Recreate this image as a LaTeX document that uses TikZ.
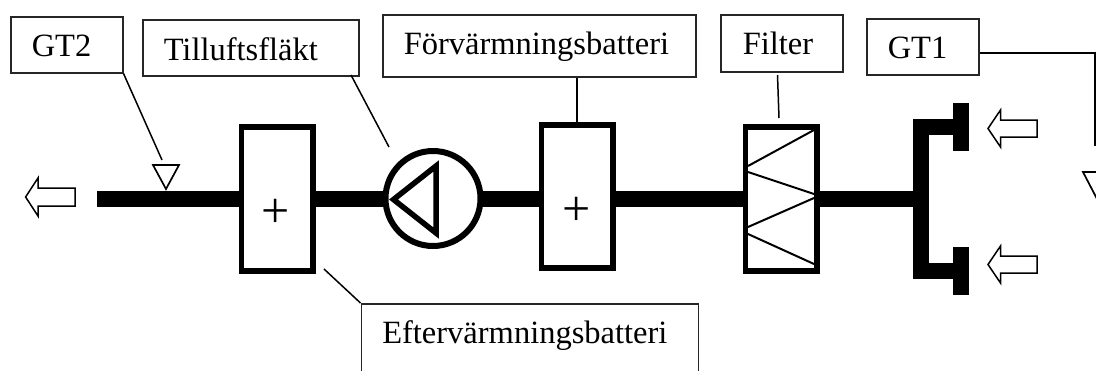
\documentclass[tikz,border=0pt]{standalone}
\usepackage{fontspec}
\setmainfont{Liberation Serif}
\tikzset{
  x=1pt,y=-1pt,
  lbox/.style={draw=black!85,line width=1.5pt,rectangle,inner sep=0pt,anchor=north west,font=\fontsize{32.5}{36}\selectfont},
  leader/.style={draw=black,line width=1.5pt},
  pipe/.style={draw=black,line width=16pt},
  unit/.style={draw=black,line width=5.5pt,rectangle,inner sep=0pt,outer sep=0pt,fill=white,minimum width=71.5pt},
  plussign/.style={inner sep=0pt,font=\fontsize{50}{50}\selectfont},
  flow/.style={draw=black,line width=1.5pt,fill=white,line join=miter},
  sensor/.style={draw=black,line width=1.7pt,fill=white},
  media/.style={draw=black,line width=2pt},
}
\newcommand{\boxtext}[3]{\makebox[#1pt][l]{\hspace{#2pt}#3}}
\begin{document}
\begin{tikzpicture}
\useasboundingbox (0,0) rectangle (1096,370);
\clip (0,0) rectangle (1096,370);
% unit symbols
\node[unit,minimum height=144pt] (h1) at (277,199) {};
\node[unit,minimum height=143pt] (h2) at (577,196.5) {};
\node[unit,minimum height=144pt] (flt) at (781,199) {};
\node[draw=black,line width=6pt,circle,inner sep=0pt,outer sep=0pt,minimum size=95pt,fill=white] (fan) at (433,198.5) {};
\node[plussign] (p1) at (276,213) {+};
\node[plussign] (p2) at (577,211) {+};
% main pipe
\coordinate (out) at (97,199);
\coordinate (junc) at (921,199);
\draw[pipe] (out) -- (h1.west |- out);
\draw[pipe] (h1.east |- out) -- (fan.west |- out);
\draw[pipe] (fan.east |- out) -- (h2.west |- out);
\draw[pipe] (h2.east |- out) -- (flt.west |- out);
\draw[pipe] (flt.east |- out) -- (junc);
% fan impeller
\draw[line width=5.5pt,line join=miter] (393.5,199.5) -- (436,166) -- (436,233) -- cycle;
% filter zigzag
\draw[media] (814,130) -- (748,166);
\draw[media] (748,172) -- (814,194);
\draw[media] (814,198) -- (748,227);
\draw[media] (748,234) -- (814,264);
% intake branches
\coordinate (tt) at (961,127);
\coordinate (tb) at (961,271);
\fill (913,119) rectangle (929,279);
\draw[pipe] (913,127) -- (tt);
\draw[pipe] (913,271) -- (tb);
\fill (953,103) rectangle (969,151);
\fill (953,247) rectangle (969,295);
% flow arrows
\draw[flow] (25.6,197) -- (38,178) -- (38,188) -- (75,188) -- (75,206) -- (38,206) -- (38,216) -- cycle;
\draw[flow] (988,128.5) -- (1000.5,110) -- (1000.5,120) -- (1037,120) -- (1037,137) -- (1000.5,137) -- (1000.5,147) -- cycle;
\draw[flow] (988,264.5) -- (1000.5,246) -- (1000.5,256) -- (1037,256) -- (1037,273) -- (1000.5,273) -- (1000.5,283) -- cycle;
% labels
\node[lbox,text height=40pt,text depth=16pt] (gt2) at (10,16) {\boxtext{112}{21}{GT2}};
\node[lbox,text height=41pt,text depth=15pt] (till) at (142,19) {\boxtext{216}{21}{Tilluftsfläkt}};
\node[lbox,text height=40pt,text depth=22pt] (forv) at (382,14) {\boxtext{313}{21}{Förvärmningsbatteri}};
\node[lbox,text height=40pt,text depth=17pt] (filt) at (720,14) {\boxtext{122}{22}{Filter}};
\node[lbox,text height=40pt,text depth=16pt] (gt1) at (866,18) {\boxtext{112}{21}{GT1}};
\node[lbox,text height=40pt,text depth=40pt] (eft) at (360.5,303) {\boxtext{337}{21}{Eftervärmningsbatteri}};
% sensors
\draw[sensor] (153,165) -- (179,165) -- (166,189) -- cycle;
\draw[sensor] (1083,172) -- (1109,172) -- (1096,197) -- cycle;
% leaders
\coordinate (g2end) at (162,160);
\coordinate (tillend) at (389,147);
\coordinate (tillstart) at (351,75);
\coordinate (g1start) at (980,53);
\coordinate (g1corner) at (1095,53);
\coordinate (g1end) at (1095,146);
\coordinate (eftstart) at (324,269);
\coordinate (filtstart) at (777.5,75);
\coordinate (filtend) at (779,118);
\draw[leader] (gt2.south east) -- (g2end);
\draw[leader] (tillstart) -- (tillend);
\draw[leader] (forv.south -| h2.north) -- (h2.north);
\draw[leader] (filtstart) -- (filtend);
\draw[leader] (g1start) -- (g1corner) -- (g1end);
\draw[leader] (eftstart) -- (eft.north west);
\end{tikzpicture}
\end{document}
